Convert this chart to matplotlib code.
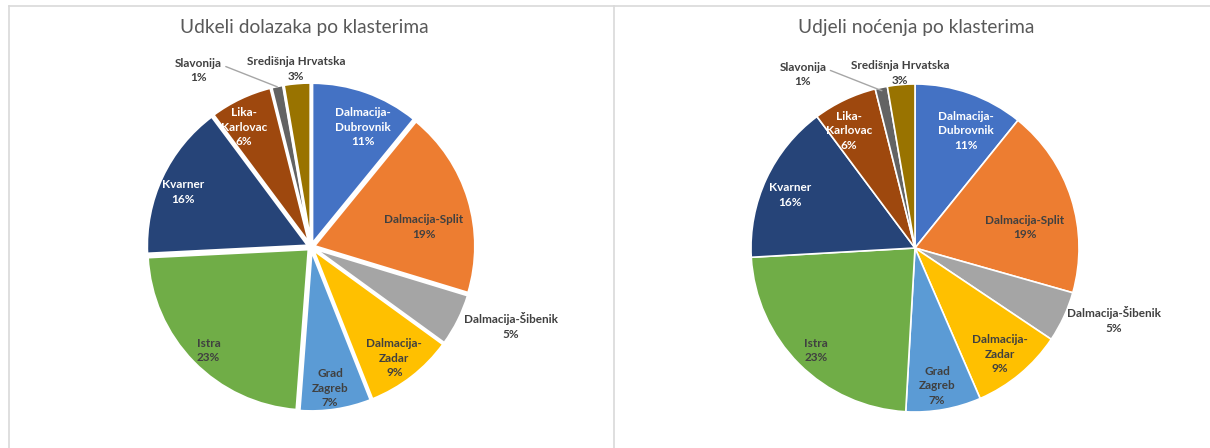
import matplotlib
matplotlib.use("Agg")
import matplotlib.pyplot as plt
from matplotlib.lines import Line2D
import numpy as np

# ---------------- data ----------------
categories = ["Dalmacija-Dubrovnik", "Dalmacija-Split", "Dalmacija-Šibenik",
              "Dalmacija-Zadar", "Grad Zagreb", "Istra", "Kvarner",
              "Lika-Karlovac", "Slavonija", "Središnja Hrvatska"]
label_text = ["Dalmacija-\nDubrovnik", "Dalmacija-Split", "Dalmacija-Šibenik",
              "Dalmacija-\nZadar", "Grad\nZagreb", "Istra", "Kvarner",
              "Lika-\nKarlovac", "Slavonija", "Središnja Hrvatska"]
dolasci = [10.9, 18.8, 5.3, 9.0, 7.2, 23.0, 15.6, 6.3, 1.2, 2.7]
nocenja = [10.8, 18.6, 5.0, 9.1, 7.4, 23.2, 15.7, 6.3, 1.2, 2.7]
title_left = "Udkeli dolazaka po klasterima"
title_right = "Udjeli noćenja po klasterima"

# ---------------- style ----------------
colors = ["#4472C4", "#ED7D31", "#A5A5A5", "#FFC000", "#5B9BD5",
          "#70AD47", "#264478", "#9E480E", "#636363", "#997300"]
text_colors = ["white", "#404040", "#404040", "#404040", "#404040",
               "#404040", "white", "white", "#404040", "#404040"]
# label placement: radius (pie radius units) and angular offset (deg, clockwise)
lab_r = [0.78, 0.68, 1.29, 0.83, 0.85, 0.87, 0.83, 0.82, 1.26, 1.07]
lab_off = [4, 7, -5, 1, 1, -1, -2, -4, -21, 0]

plt.rcParams['font.family'] = ['Lato', 'DejaVu Sans']

W, H = 1210, 448
fig = plt.figure(figsize=(W / 100, H / 100), dpi=100)
fig.patch.set_facecolor("white")

R_px = 164.0
K = 1.45


def make_ax(cx, cy_top):
    half = R_px * K
    cy = H - cy_top
    ax = fig.add_axes([(cx - half) / W, (cy - half) / H, 2 * half / W, 2 * half / H])
    ax.set_xlim(-K, K)
    ax.set_ylim(-K, K)
    ax.axis("off")
    return ax


def draw_pie(ax, values, explode_amt, lw, radius):
    wedges, _ = ax.pie(values, colors=colors, startangle=90, counterclock=False,
                       explode=[explode_amt] * len(values), radius=radius,
                       wedgeprops=dict(edgecolor="white", linewidth=lw))
    ax.set_xlim(-K, K)
    ax.set_ylim(-K, K)
    for i, w in enumerate(wedges):
        mid = 0.5 * (w.theta1 + w.theta2) - lab_off[i]
        cx, cy = w.center
        x = cx + lab_r[i] * np.cos(np.radians(mid))
        y = cy + lab_r[i] * np.sin(np.radians(mid))
        txt = f"{label_text[i]}\n{round(values[i])}%"
        if categories[i] == "Slavonija":
            amid = np.radians(0.5 * (w.theta1 + w.theta2))
            ax.annotate(txt, xy=(cx + 0.98 * np.cos(amid), cy + 0.98 * np.sin(amid)),
                        xytext=(x, y), ha="center", va="center",
                        fontsize=8.5, fontweight="bold", color=text_colors[i],
                        linespacing=1.4,
                        arrowprops=dict(arrowstyle="-", color="#A6A6A6", lw=1.0,
                                        relpos=(1.0, 0.72), shrinkA=1, shrinkB=0))
        else:
            ax.text(x, y, txt, ha="center", va="center", fontsize=8.5,
                    fontweight="bold", color=text_colors[i], linespacing=1.4)


ax1 = make_ax(311, 247)
draw_pie(ax1, dolasci, 0.018, 2.0, 0.985)
ax2 = make_ax(915, 248)
draw_pie(ax2, nocenja, 0.0, 1.2, 1.0)

fig.text(304 / W, 1 - 28 / H, title_left, ha="center", va="center",
         fontsize=13.8, color="#595959")
fig.text(916 / W, 1 - 28 / H, title_right, ha="center", va="center",
         fontsize=13.8, color="#595959")

# chart area borders
bc = "#D9D9D9"
fig.add_artist(Line2D([8.5 / W, 1.0], [1 - 6.5 / H, 1 - 6.5 / H], color=bc, lw=1.2,
                      transform=fig.transFigure))
fig.add_artist(Line2D([8.5 / W, 8.5 / W], [0, 1 - 6.5 / H], color=bc, lw=1.2,
                      transform=fig.transFigure))
fig.add_artist(Line2D([613.5 / W, 613.5 / W], [0, 1 - 6.5 / H], color=bc, lw=1.2,
                      transform=fig.transFigure))

fig.savefig("out.png", dpi=100, facecolor="white")
